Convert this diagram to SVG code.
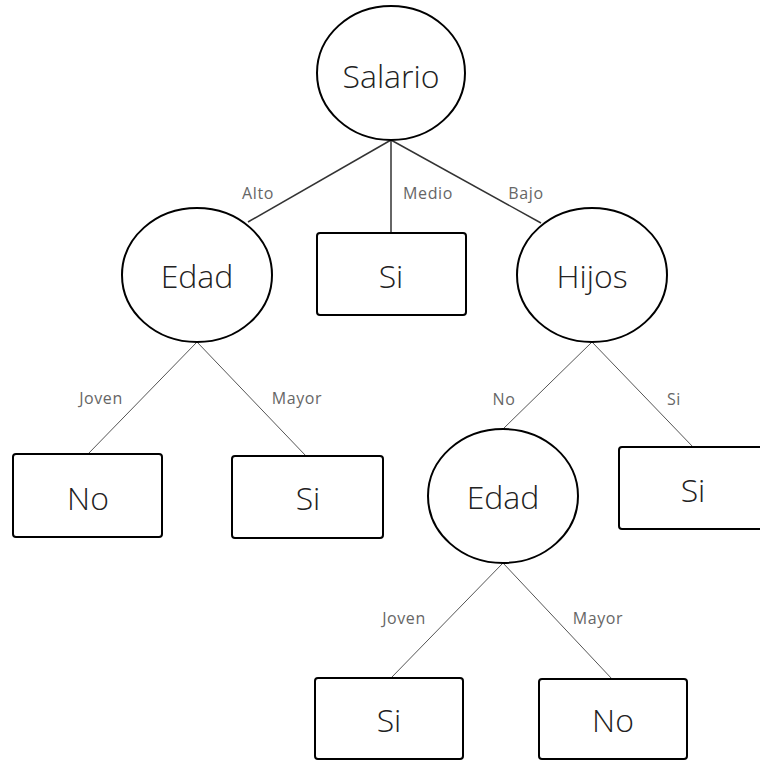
<svg xmlns="http://www.w3.org/2000/svg" width="760" height="761" viewBox="0 0 760 761">
<style>
.node ellipse,.node rect{fill:#fff;stroke:#000;stroke-width:2}
.nt{font-family:"Open Sans","Liberation Sans",sans-serif;font-size:32px;font-weight:300;fill:#222;text-anchor:middle;dominant-baseline:central}
.lb{font-family:"Open Sans","Liberation Sans",sans-serif;font-size:16px;font-weight:400;fill:#666;text-anchor:middle;dominant-baseline:central;letter-spacing:0.6px}
.c1{stroke:#333;stroke-width:1.5;fill:none}
.c2{stroke:#555;stroke-width:1;fill:none}
</style>
<rect width="760" height="761" fill="#fff"/>
<g id="connectors">
<line class="c1" x1="391" y1="140" x2="248" y2="222"/>
<line class="c1" x1="391" y1="140" x2="391" y2="233"/>
<line class="c1" x1="391" y1="140" x2="541" y2="223"/>
<line class="c2" x1="197" y1="342" x2="88" y2="454"/>
<line class="c2" x1="197" y1="342" x2="306" y2="456"/>
<line class="c2" x1="592" y1="342" x2="503" y2="429"/>
<line class="c2" x1="592" y1="342" x2="693" y2="447"/>
<line class="c2" x1="503" y1="563" x2="391" y2="678"/>
<line class="c2" x1="503" y1="563" x2="612" y2="679"/>
<text class="lb" x="258" y="193">Alto</text>
<text class="lb" x="428" y="193">Medio</text>
<text class="lb" x="526" y="193">Bajo</text>
<text class="lb" x="101" y="398">Joven</text>
<text class="lb" x="297" y="398">Mayor</text>
<text class="lb" x="504" y="399">No</text>
<text class="lb" x="674" y="399">Si</text>
<text class="lb" x="404" y="618">Joven</text>
<text class="lb" x="598" y="618">Mayor</text>
</g>
<g id="salario" class="node"><ellipse cx="391" cy="73" rx="74" ry="67"/><text class="nt" x="391" y="75">Salario</text></g>
<g id="edad1" class="node"><ellipse cx="197" cy="275" rx="75" ry="67"/><text class="nt" x="197" y="275">Edad</text></g>
<g id="si-medio" class="node"><rect x="317" y="233" width="149" height="82" rx="3"/><text class="nt" x="391" y="275">Si</text></g>
<g id="hijos" class="node"><ellipse cx="592" cy="275" rx="75" ry="67"/><text class="nt" x="592" y="275">Hijos</text></g>
<g id="no1" class="node"><rect x="13" y="454" width="149" height="83" rx="3"/><text class="nt" x="88" y="497">No</text></g>
<g id="si1" class="node"><rect x="232" y="456" width="151" height="82" rx="3"/><text class="nt" x="308" y="497">Si</text></g>
<g id="edad2" class="node"><ellipse cx="503" cy="496" rx="75" ry="67"/><text class="nt" x="503" y="496">Edad</text></g>
<g id="si-hijos" class="node"><rect x="619" y="447" width="150" height="82" rx="3"/><text class="nt" x="693" y="489">Si</text></g>
<g id="si2" class="node"><rect x="315" y="678" width="148" height="81" rx="3"/><text class="nt" x="389" y="719">Si</text></g>
<g id="no2" class="node"><rect x="539" y="679" width="148" height="80" rx="3"/><text class="nt" x="613" y="719">No</text></g>
</svg>
